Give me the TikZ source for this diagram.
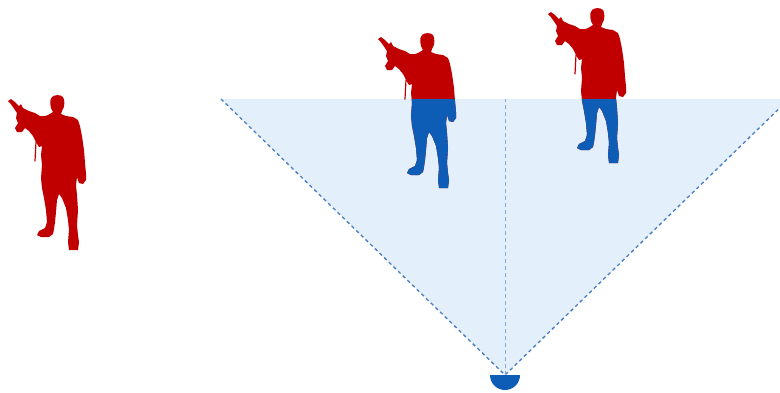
\documentclass[tikz,border=0pt]{standalone}
\definecolor{fovfill}{HTML}{E3EFFB}
\definecolor{fovline}{HTML}{4A7DC0}
\definecolor{fovaxis}{HTML}{86A9D8}
\definecolor{soldierred}{HTML}{C00000}
\definecolor{soldierblue}{HTML}{0D5CB6}

% Outline of one standing soldier holding a rifle (units: pt, y pointing down)
\newcommand\soldierpath{
  (53,112) .. controls (50,108) and (49,100) .. (52,97)
  .. controls (54,95) and (60,94) .. (63,97)
  .. controls (65,100) and (65,107) .. (62,111)
  -- (61,114) -- (66,116) -- (73,117) -- (78,120) -- (80,126)
  -- (82,136) -- (84,150) -- (85,163) -- (86,174) -- (86,180)
  -- (83,184) -- (79,183) -- (77,177) -- (76,185) -- (77,195)
  -- (78,210) -- (77,225) -- (78,235) -- (79,242) -- (78,250)
  -- (69,250) -- (68,242) -- (69,230) -- (68,220) -- (66,208)
  -- (62,198) -- (59,194) -- (57,200) -- (56,212) -- (55,222)
  -- (54,229) -- (53,234) -- (49,237) -- (41,237) -- (37,235)
  -- (39,231) -- (45,228) -- (47,222) -- (46,210) -- (44,198)
  -- (42,188) -- (41,178) -- (42,165) -- (41,155) -- (42,146)
  -- (39,147) -- (36,142) -- (33,136) -- (29,131) -- (25,128)
  -- (22,132) -- (17,132) -- (15,128) -- (18,123) -- (16,118)
  -- (17,113) -- (13,107) -- (10,103) -- (8,101) -- (11,99)
  -- (15,102) -- (19,106) -- (21,104) -- (23,108) -- (29,111)
  -- (35,113) -- (40,116) -- (45,116) -- (48,115) -- cycle
}

\begin{document}
\begin{tikzpicture}[x=1pt,y=-1pt,
  fovedge/.style={fovline, line width=1.3pt, dash pattern=on 3.5pt off 3pt},
  fovcentre/.style={fovaxis, line width=0.9pt, dash pattern=on 4pt off 3pt},
  strap/.style={line width=1.2pt, line cap=round}]
\useasboundingbox (0,0) rectangle (780,392);
\clip (0,0) rectangle (780,392);

% field of view of the sensor
\coordinate (apex) at (505,375);
\coordinate (fovL) at (221,99);
\coordinate (fovR) at (789,99);
\coordinate (fovC) at (505,99);
\fill[fovfill] (fovL) -- (fovR) -- (apex) -- cycle;
\draw[fovedge] (fovL) -- (apex) -- (fovR);
\draw[fovcentre] (apex) -- (fovC);

% soldiers: red outside the field of view, blue where it covers them
\foreach \dx/\dy in {0/0, 370/-62, 540/-87} {
  \begin{scope}[shift={(\dx,\dy)}]
    \fill[soldierred] \soldierpath;
    \draw[soldierred, strap] (36,142) -- (35,161);
  \end{scope}
  \begin{scope}
    \clip (fovL) -- (fovR) -- (apex) -- cycle;
    \begin{scope}[shift={(\dx,\dy)}]
      \fill[soldierblue] \soldierpath;
      \draw[soldierblue, strap] (36,142) -- (35,161);
    \end{scope}
  \end{scope}
}

% sensor
\fill[soldierblue] (490,375) arc[start angle=180, end angle=0, radius=15] -- cycle;
\end{tikzpicture}
\end{document}
